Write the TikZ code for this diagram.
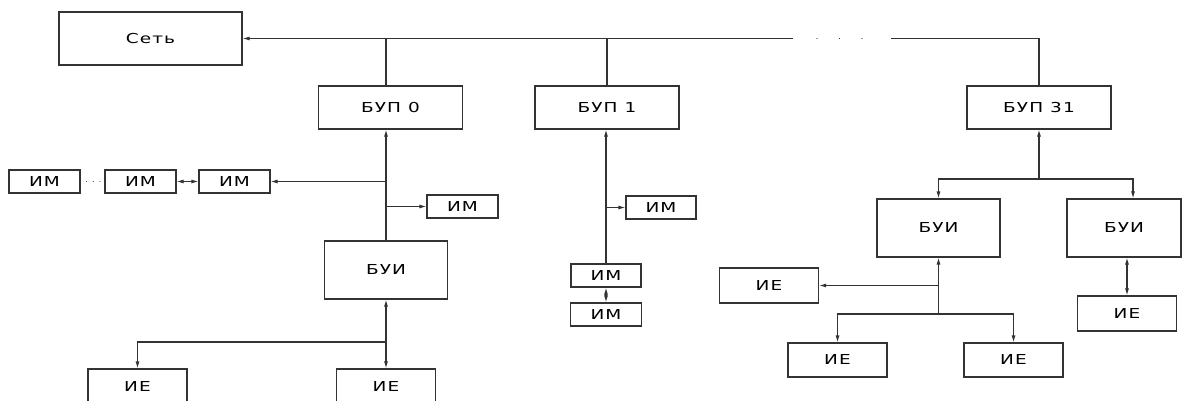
\documentclass[tikz,border=0pt]{standalone}
\usepackage{fontspec}
\newfontfamily\gostfont[FakeStretch=1.35, LetterSpace=8]{DejaVu Sans}
\usetikzlibrary{arrows.meta}
\tikzset{
  box/.style={
    rectangle, draw=black!80, line width=1.1pt,
    minimum width=#1, inner sep=0pt,
    font=\gostfont\fontsize{13.7}{16}\selectfont
  },
  box/.default=71pt,
  imBox/.style={box=71pt, minimum height=23pt},
  ieBox/.style={box=99pt, minimum height=35pt},
  buiBox/.style={box=123pt, minimum height=58pt},
  bupBox/.style={box=144pt, minimum height=43pt},
  ln/.style={line width=1.1pt, color=black!80},
  arr/.style={-{Latex[length=7pt,width=4pt]}, ln},
  dArr/.style={{Latex[length=7pt,width=4pt]}-{Latex[length=7pt,width=4pt]}, ln},
  dots/.style={ln, line cap=round, dash pattern=on 0.1pt off #1},
}
\begin{document}
\begin{tikzpicture}[x=1pt,y=-1pt]
\useasboundingbox (0,0) rectangle (1182,401);

% Network
\node[box=183pt, minimum height=53pt] at (150.5,38.5) (net) {Сеть};

% Panel units
\node[bupBox] at (390.5,107.5) (bup0) {БУП 0};
\node[bupBox] at (607,107.5) (bup1) {БУП 1};
\node[bupBox] at (1039,107.5) (bup31) {БУП 31};

% Bus
\coordinate (busA) at (793,38.5);
\coordinate (busB) at (891,38.5);
\coordinate (dotA) at (817,38.5);
\coordinate (dotB) at (866,38.5);
\coordinate (tap0) at (386,38.5);
\draw[arr] (busA) -- (net.east);
\draw[dots=22.4pt] (dotA) -- (dotB);
\draw[ln] (busB) -| (bup31.north);
\draw[ln] (tap0) -- (tap0 |- bup0.north);
\draw[ln] (bup1.north |- net.east) -- (bup1.north);

% Column 0
\node[buiBox] at (386,270) (bui0) {БУИ};
\node[imBox] at (234.5,181.5) (im3) {ИМ};
\node[imBox] at (140.5,181.5) (im2) {ИМ};
\node[imBox] at (44.5,181.5) (im1) {ИМ};
\node[imBox] at (462.5,206.5) (im4) {ИМ};
\draw[arr] (bui0.north) -- (bui0.north |- bup0.south);
\draw[arr] (im3.east -| bui0) -- (im3.east);
\draw[dArr] (im2) -- (im3);
\draw[dots=6.6pt, shorten <=6pt, shorten >=4.5pt] (im1) -- (im2);
\draw[arr] (im4.west -| bui0) -- (im4.west);

\node[ieBox] at (137.5,386.5) (ie1) {ИЕ};
\node[ieBox] at (386,386.5) (ie2) {ИЕ};
\coordinate (j0) at (386,342);
\draw[dArr] (bui0.south) -- (ie2.north);
\draw[arr] (j0) -| (ie1.north);

% Column 1
\node[imBox, minimum width=70pt] at (606,275.5) (im5) {ИМ};
\node[imBox] at (606,314.5) (im6) {ИМ};
\node[imBox, minimum width=70pt] at (661,207.5) (im7) {ИМ};
\draw[arr] (im5.north) -- (im5.north |- bup1.south);
\draw[arr] (im7.west -| im5) -- (im7.west);
\draw[dArr] (im5) -- (im6);

% Column 31
\node[buiBox] at (938.5,228) (bui1) {БУИ};
\node[buiBox, minimum width=114pt] at (1124,228) (bui2) {БУИ};
\coordinate (j1) at (1039,179);
\draw[arr] (j1) -- (bup31.south);
\draw[arr] (j1) -| (bui1.north);
\draw[arr] (j1) -| ([xshift=9pt]bui2.north);

\node[ieBox] at (769,285.5) (ie3) {ИЕ};
\node[ieBox, minimum height=34pt] at (837.5,360) (ie4) {ИЕ};
\node[ieBox, minimum height=34pt] at (1013.5,360) (ie5) {ИЕ};
\node[ieBox] at (1127,313.5) (ie6) {ИЕ};
\coordinate (j2) at (938.5,314);
\draw[arr] (j2) -- (bui1.south);
\draw[arr] (j2 |- ie3.east) -- (ie3.east);
\draw[arr] (j2) -| (ie4.north);
\draw[arr] (j2) -| (ie5.north);
\draw[dArr] (bui2.south -| ie6) -- (ie6.north);

\end{tikzpicture}
\end{document}
